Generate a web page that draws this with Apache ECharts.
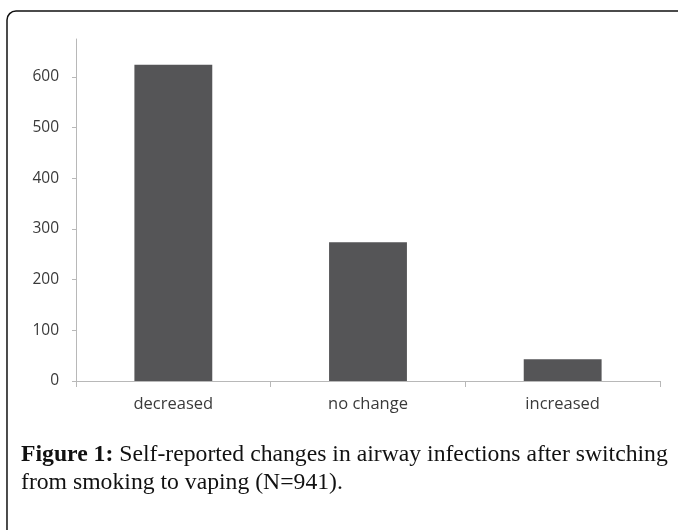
<!DOCTYPE html>
<html>
<head>
<meta charset="utf-8">
<script src="https://cdn.jsdelivr.net/npm/echarts@6/dist/echarts.min.js"></script>
<style>html,body{margin:0;padding:0;background:#fff;}#c{width:678px;height:530px;}</style>
</head>
<body>
<div id="c"></div>
<script>
var categories = ['decreased', 'no change', 'increased'];
var counts = [624, 274, 43];
var yTicks = [0, 100, 200, 300, 400, 500, 600];
var captionBold = 'Figure 1:';
var captionLine1 = ' Self-reported changes in airway infections after switching';
var captionLine2 = 'from smoking to vaping (N=941).';

var chart = echarts.init(document.getElementById('c'));
chart.setOption({
  animation: false,
  grid: { left: 76, right: 18, top: 39, bottom: 149 },
  xAxis: {
    type: 'category',
    data: categories,
    axisLine: { lineStyle: { color: '#b8b8b8', width: 1 } },
    axisTick: { show: true, length: 6, lineStyle: { color: '#b8b8b8' } },
    axisLabel: { color: '#3a3a3a', fontSize: 16.5, fontFamily: 'Open Sans', margin: 15 }
  },
  yAxis: {
    type: 'value',
    min: 0, max: 675, interval: 100,
    axisLine: { show: true, lineStyle: { color: '#b8b8b8', width: 1 } },
    axisTick: { show: true, length: 4, lineStyle: { color: '#b8b8b8' }, customValues: yTicks },
    axisLabel: { color: '#3a3a3a', fontSize: 15.5, fontFamily: 'Open Sans', margin: 17, customValues: yTicks },
    splitLine: { show: false }
  },
  series: [{
    type: 'bar',
    data: counts,
    barCategoryGap: '60%',
    itemStyle: { color: '#555557' }
  }],
  graphic: [
    { type: 'rect', shape: { x: 7, y: 11, width: 720, height: 600, r: 9 },
      style: { fill: 'none', stroke: '#111', lineWidth: 1.5 } },
    { type: 'text', left: 21, top: 443,
      style: { text: '{b|' + captionBold + '}' + captionLine1, font: '23.7px "Liberation Serif"', fill: '#111',
        rich: { b: { fontWeight: 'bold', fontSize: 23.7, fontFamily: 'Liberation Serif', fill: '#111' } } } },
    { type: 'text', left: 21, top: 471,
      style: { text: captionLine2, font: '23.7px "Liberation Serif"', fill: '#111' } }
  ]
});
</script>
</body>
</html>
